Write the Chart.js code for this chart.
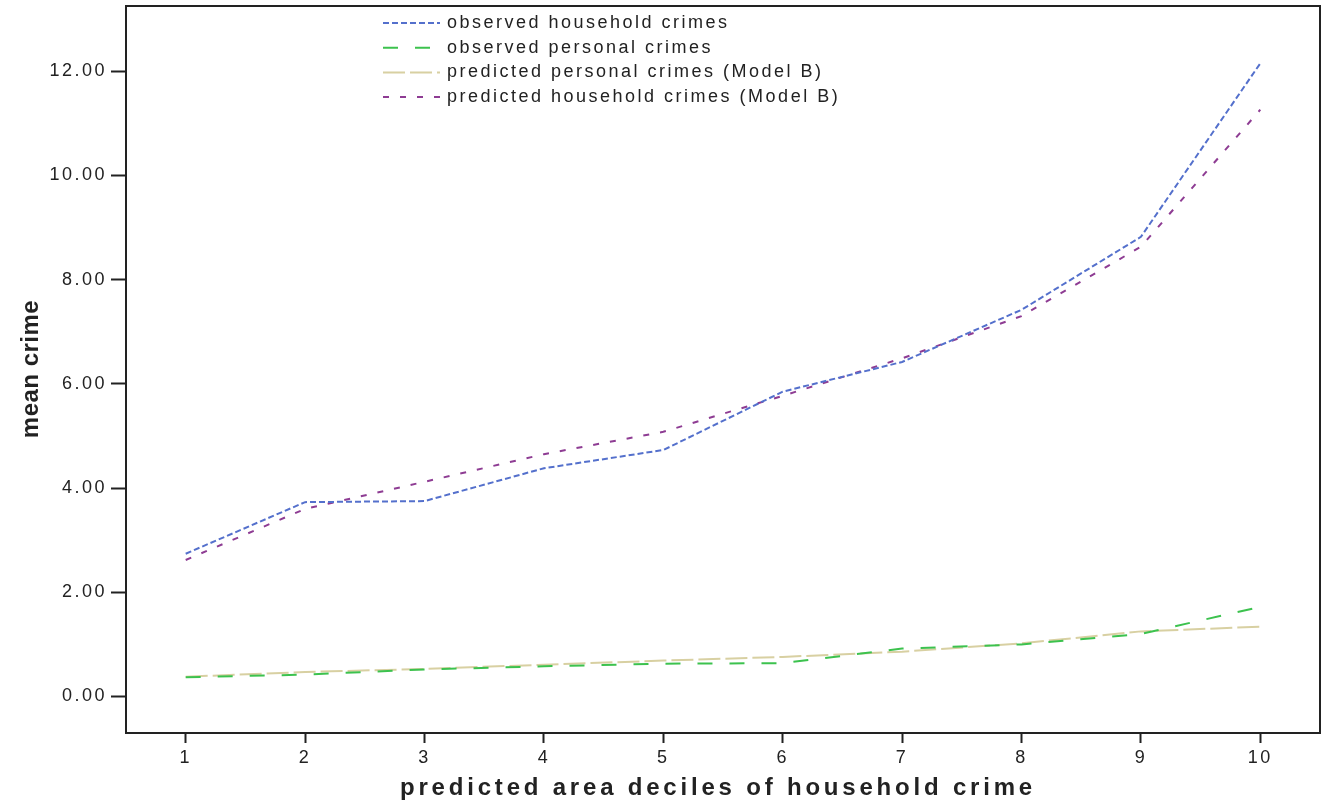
<!DOCTYPE html>
<meta charset="utf-8" />
<title>mean crime by predicted area deciles</title>
<script src="https://cdn.jsdelivr.net/npm/chart.js@4/dist/chart.umd.min.js"></script>
<style>
html, body {
	margin: 0;
	padding: 0;
	background: #fff;
}
.wrap {
	width: 1329px;
	height: 805px;
}
</style>

<div class="wrap"><canvas id="chart"></canvas></div>

<script>
// deciles on the x axis
const deciles = [1, 2, 3, 4, 5, 6, 7, 8, 9, 10];
const yTicks = [0, 2, 4, 6, 8, 10, 12];

// values
const obsHousehold = [2.74, 3.73, 3.75, 4.38, 4.73, 5.85, 6.42, 7.42, 8.82, 12.15];
const obsPersonal = [0.37, 0.42, 0.52, 0.58, 0.63, 0.64, 0.92, 1.00, 1.20, 1.72];
const predPersonal = [0.38, 0.47, 0.53, 0.61, 0.69, 0.76, 0.86, 1.02, 1.25, 1.34];
const predHousehold = [2.62, 3.60, 4.12, 4.65, 5.08, 5.77, 6.49, 7.30, 8.63, 11.26];

const seriesNames = [
	'observed household crimes',
	'observed personal crimes',
	'predicted personal crimes (Model B)',
	'predicted household crimes (Model B)',
];

const xTitle = 'predicted area deciles of household crime';
const yTitle = 'mean crime';

const ink = '#222';
const font = 'Arial, "Liberation Sans", sans-serif';

const pts = arr => arr.map((v, i) => ({x: deciles[i], y: v}));

function lineSet(label, values, color, dash) {
	return {
		label: label,
		data: pts(values),
		borderColor: color,
		backgroundColor: color,
		borderWidth: 2,
		borderDash: dash,
		pointRadius: 0,
		tension: 0,
		fill: false,
	};
}

// frame, titles and the legend box inside the plot, SPSS style
const spssDecor = {
	id: 'spssDecor',
	beforeDraw(chart) {
		chart.ctx.letterSpacing = '2.5px';
	},
	afterDraw(chart) {
		const ctx = chart.ctx;
		const a = chart.chartArea;
		ctx.save();
		ctx.strokeStyle = ink;
		ctx.lineWidth = 2;
		ctx.setLineDash([]);
		ctx.strokeRect(a.left, a.top, a.right - a.left, a.bottom - a.top);

		// legend
		ctx.font = '18px ' + font;
		ctx.letterSpacing = '2.5px';
		ctx.textBaseline = 'middle';
		ctx.textAlign = 'left';
		chart.data.datasets.forEach((ds, i) => {
			const y = 23 + i * 24.7;
			ctx.strokeStyle = ds.borderColor;
			ctx.lineWidth = 2;
			ctx.setLineDash(ds.borderDash);
			ctx.beginPath();
			ctx.moveTo(383, y);
			ctx.lineTo(440, y);
			ctx.stroke();
			ctx.setLineDash([]);
			ctx.fillStyle = ink;
			ctx.fillText(ds.label, 447, y);
		});

		// axis titles
		ctx.fillStyle = ink;
		ctx.textAlign = 'center';
		ctx.font = 'bold 24px ' + font;
		ctx.letterSpacing = '3.8px';
		ctx.fillText(xTitle, 718, 788);

		ctx.translate(31, 369);
		ctx.rotate(-Math.PI / 2);
		ctx.letterSpacing = '0.5px';
		ctx.fillText(yTitle, 0, 0);
		ctx.restore();
	}
};

new Chart(document.getElementById('chart'), {
	type: 'line',
	data: {
		datasets: [
			lineSet(seriesNames[0], obsHousehold, '#5470cc', [6, 3]),
			lineSet(seriesNames[1], obsPersonal, '#3cc24e', [15, 17]),
			lineSet(seriesNames[2], predPersonal, '#d8d0a2', [22, 5]),
			lineSet(seriesNames[3], predHousehold, '#8e3c93', [6, 11]),
		]
	},
	options: {
		responsive: true,
		maintainAspectRatio: false,
		animation: false,
		layout: {
			padding: {top: 6, right: 9, left: 0, bottom: 0}
		},
		plugins: {
			legend: {display: false},
			tooltip: {enabled: false},
		},
		scales: {
			x: {
				type: 'linear',
				min: 0.5,
				max: 10.5,
				afterBuildTicks: s => { s.ticks = deciles.map(v => ({value: v})); },
				afterFit: s => {
					s.height = 72;
					s.paddingLeft = 0;
					s.paddingRight = 0;
				},
				border: {display: false},
				grid: {
					drawOnChartArea: false,
					drawTicks: true,
					tickLength: 10,
					tickWidth: 2,
					tickColor: ink,
				},
				ticks: {
					color: ink,
					padding: 4,
					maxRotation: 0,
					font: {family: font, size: 18},
				},
			},
			y: {
				min: -0.7,
				max: 13.25,
				afterBuildTicks: s => { s.ticks = yTicks.map(v => ({value: v})); },
				afterFit: s => {
					s.width = 126;
					s.paddingTop = 0;
					s.paddingBottom = 0;
				},
				border: {display: false},
				grid: {
					drawOnChartArea: false,
					drawTicks: true,
					tickLength: 15,
					tickWidth: 2,
					tickColor: ink,
				},
				ticks: {
					color: ink,
					padding: 4,
					font: {family: font, size: 18},
					callback: v => v.toFixed(2),
				},
			},
		},
	},
	plugins: [spssDecor],
});
</script>
